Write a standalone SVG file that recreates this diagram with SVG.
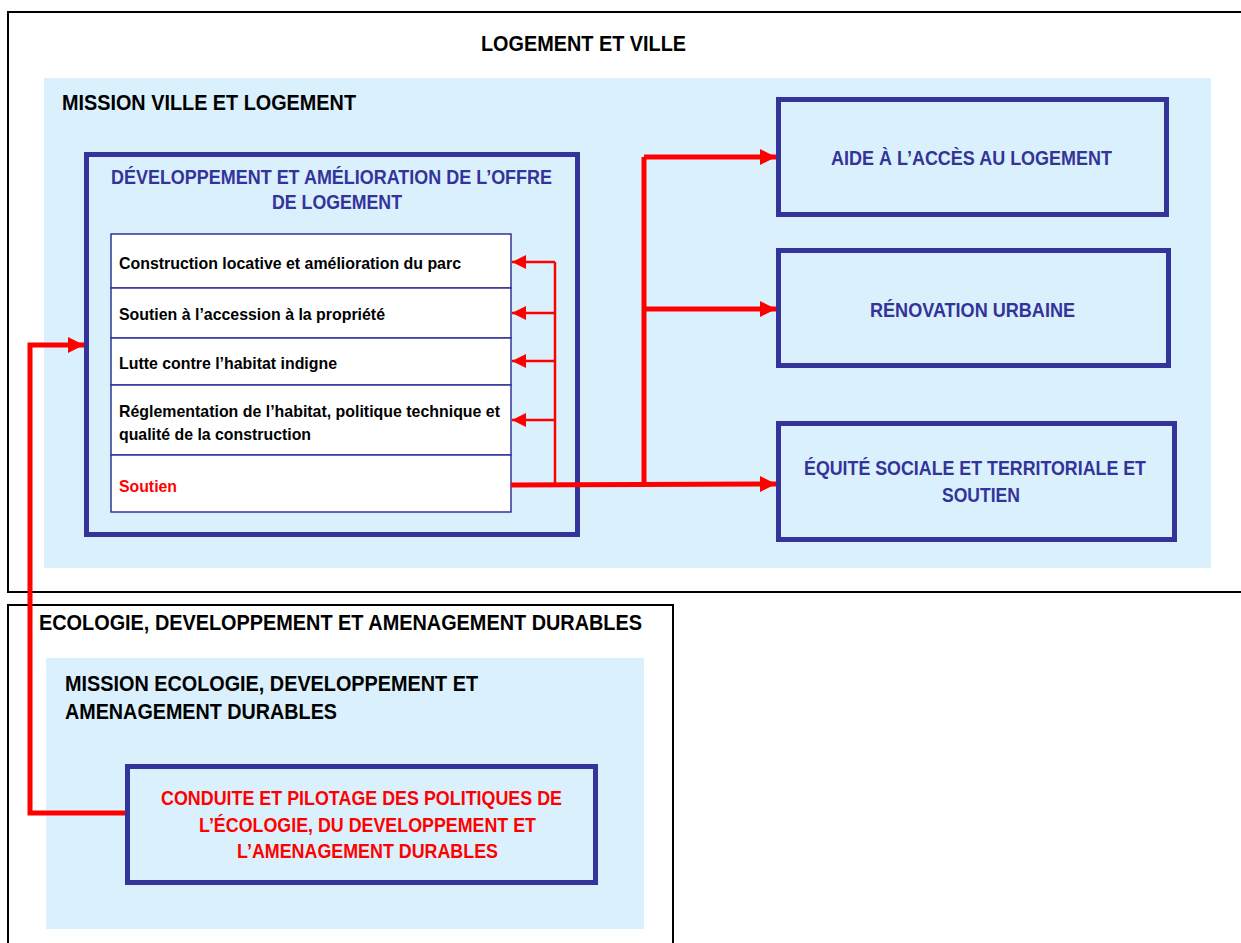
<svg xmlns="http://www.w3.org/2000/svg" width="1241" height="943" viewBox="0 0 1241 943">
<defs>
<style>
text{font-family:"Liberation Sans",Arial,sans-serif;font-weight:bold}
.blk{fill:#000}
.blu{fill:#333399}
.red{fill:#FF0000}
.frame{fill:none;stroke:#000;stroke-width:2}
.panel{fill:#DAF0FD}
.box{fill:#DAF0FD;stroke:#333399;stroke-width:5}
.row{fill:#fff;stroke:#333399;stroke-width:1.5}
.thick{fill:none;stroke:#FF0000;stroke-width:5}
.thin{fill:none;stroke:#FF0000;stroke-width:2.5}
</style>
<marker id="ah" markerUnits="userSpaceOnUse" markerWidth="17" markerHeight="16" refX="16" refY="8" orient="auto">
<path d="M0,0 L16,8 L0,16 Z" fill="#FF0000"/>
</marker>
<marker id="ahs" markerUnits="userSpaceOnUse" markerWidth="15" markerHeight="14" refX="14" refY="7" orient="auto">
<path d="M0,0 L14,7 L0,14 Z" fill="#FF0000"/>
</marker>
</defs>

<g id="logement-ville">
<rect class="frame" x="8" y="12" width="1245" height="580"/>
<text class="blk" x="481" y="51" font-size="22" textLength="205" lengthAdjust="spacingAndGlyphs">LOGEMENT ET VILLE</text>
</g>

<g id="mission-ville-logement">
<rect class="panel" x="44" y="78" width="1167" height="490"/>
<text class="blk" x="62" y="110" font-size="22" textLength="294" lengthAdjust="spacingAndGlyphs">MISSION VILLE ET LOGEMENT</text>
</g>

<g id="developpement">
<rect class="box" x="86.5" y="154.5" width="491" height="380"/>
<text class="blu" x="111" y="184" font-size="19.5" textLength="441" lengthAdjust="spacingAndGlyphs">DÉVELOPPEMENT ET AMÉLIORATION DE L’OFFRE</text>
<text class="blu" x="272" y="209" font-size="19.5" textLength="130" lengthAdjust="spacingAndGlyphs">DE LOGEMENT</text>
</g>

<g id="row-construction">
<rect class="row" x="111" y="234" width="400" height="54"/>
<text class="blk" x="119" y="269" font-size="17" textLength="342" lengthAdjust="spacingAndGlyphs">Construction locative et amélioration du parc</text>
</g>
<g id="row-accession">
<rect class="row" x="111" y="288" width="400" height="50"/>
<text class="blk" x="119" y="320" font-size="17" textLength="266" lengthAdjust="spacingAndGlyphs">Soutien à l’accession à la propriété</text>
</g>
<g id="row-lutte">
<rect class="row" x="111" y="338" width="400" height="47"/>
<text class="blk" x="119" y="369" font-size="17" textLength="218" lengthAdjust="spacingAndGlyphs">Lutte contre l’habitat indigne</text>
</g>
<g id="row-reglementation">
<rect class="row" x="111" y="385" width="400" height="70"/>
<text class="blk" x="119" y="417" font-size="17" textLength="381" lengthAdjust="spacingAndGlyphs">Réglementation de l’habitat, politique technique et</text>
<text class="blk" x="119" y="440" font-size="17" textLength="192" lengthAdjust="spacingAndGlyphs">qualité de la construction</text>
</g>
<g id="row-soutien">
<rect class="row" x="111" y="455" width="400" height="57"/>
<text class="red" x="119" y="492" font-size="17" textLength="58" lengthAdjust="spacingAndGlyphs">Soutien</text>
</g>

<g id="aide-acces">
<rect class="box" x="778.5" y="99.5" width="388" height="115"/>
<text class="blu" x="831" y="165" font-size="20" textLength="281" lengthAdjust="spacingAndGlyphs">AIDE À L’ACCÈS AU LOGEMENT</text>
</g>
<g id="renovation">
<rect class="box" x="778.5" y="250.5" width="390" height="115"/>
<text class="blu" x="870" y="317" font-size="20" textLength="205" lengthAdjust="spacingAndGlyphs">RÉNOVATION URBAINE</text>
</g>
<g id="equite">
<rect class="box" x="778.5" y="423.5" width="396" height="116"/>
<text class="blu" x="804" y="475" font-size="20" textLength="342" lengthAdjust="spacingAndGlyphs">ÉQUITÉ SOCIALE ET TERRITORIALE ET</text>
<text class="blu" x="942" y="502" font-size="20" textLength="78" lengthAdjust="spacingAndGlyphs">SOUTIEN</text>
</g>

<g id="ecologie">
<rect class="frame" x="8" y="605" width="665" height="345"/>
<text class="blk" x="39" y="630" font-size="22" textLength="603" lengthAdjust="spacingAndGlyphs">ECOLOGIE, DEVELOPPEMENT ET AMENAGEMENT DURABLES</text>
</g>
<g id="mission-ecologie">
<rect class="panel" x="46" y="658" width="598" height="271"/>
<text class="blk" x="65" y="691" font-size="22" textLength="413" lengthAdjust="spacingAndGlyphs">MISSION ECOLOGIE, DEVELOPPEMENT ET</text>
<text class="blk" x="65" y="719" font-size="22" textLength="272" lengthAdjust="spacingAndGlyphs">AMENAGEMENT DURABLES</text>
</g>
<g id="conduite">
<rect class="box" x="127.5" y="766.5" width="468" height="116"/>
<text class="red" x="161" y="805" font-size="20" textLength="401" lengthAdjust="spacingAndGlyphs">CONDUITE ET PILOTAGE DES POLITIQUES DE</text>
<text class="red" x="199" y="832" font-size="20" textLength="337" lengthAdjust="spacingAndGlyphs">L’ÉCOLOGIE, DU DEVELOPPEMENT ET</text>
<text class="red" x="237" y="858" font-size="20" textLength="261" lengthAdjust="spacingAndGlyphs">L’AMENAGEMENT DURABLES</text>
</g>

<g id="connectors">
<path class="thick" d="M511,485 L776,484" marker-end="url(#ah)"/>
<path class="thick" d="M644,485 L644,157"/>
<path class="thick" d="M644,157 L776,157" marker-end="url(#ah)"/>
<path class="thick" d="M644,309 L776,309" marker-end="url(#ah)"/>
<path class="thin" d="M555,485 L555,262"/>
<path class="thin" d="M555,262 L512,262" marker-end="url(#ahs)"/>
<path class="thin" d="M555,313 L512,313" marker-end="url(#ahs)"/>
<path class="thin" d="M555,361 L512,361" marker-end="url(#ahs)"/>
<path class="thin" d="M555,420 L512,420" marker-end="url(#ahs)"/>
<path class="thick" d="M125,813 L30,813 L30,345 L84,345" marker-end="url(#ah)"/>
</g>
</svg>
